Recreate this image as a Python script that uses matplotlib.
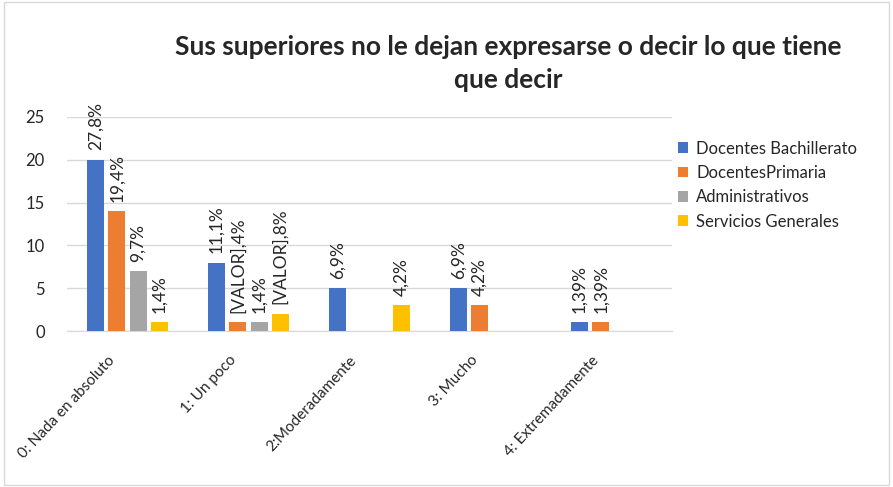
import matplotlib.pyplot as plt
import matplotlib.transforms as mtransforms
import numpy as np

plt.rcParams['font.family'] = ['Lato', 'DejaVu Sans']

categories = ["0: Nada en absoluto", "1: Un poco", "2:Moderadamente", "3: Mucho", "4: Extremadamente"]
series = ["Docentes Bachillerato", "DocentesPrimaria", "Administrativos", "Servicios Generales"]
colors = ["#4472C4", "#ED7D31", "#A5A5A5", "#FFC000"]

bachillerato = [20, 8, 5, 5, 1]
primaria = [14, 1, 0, 3, 1]
administrativos = [7, 1, 0, 0, 0]
servicios = [1, 2, 3, 0, 0]

lab_bach = ["27,8%", "11,1%", "6,9%", "6,9%", "1,39%"]
lab_prim = ["19,4%", "[VALOR],4%", None, "4,2%", "1,39%"]
lab_adm = ["9,7%", "1,4%", None, None, None]
lab_serv = ["1,4%", "[VALOR],8%", "4,2%", None, None]

values = [bachillerato, primaria, administrativos, servicios]
labels = [lab_bach, lab_prim, lab_adm, lab_serv]

fig = plt.figure(figsize=(8.93, 4.87), dpi=100)
ax = fig.add_axes([0.075, 0.3203, 0.6775, 0.4395])

x = np.arange(len(categories))
w = 0.14
step = 0.175
for i, (vals, labs) in enumerate(zip(values, labels)):
    pos = x + (i - 1.5) * step
    ax.bar(pos, vals, width=w, color=colors[i], label=series[i], zorder=3)
    for p, v, t in zip(pos, vals, labs):
        if t is None:
            continue
        ax.text(p, v + 1.1, t, rotation=90, ha='center', va='bottom',
                fontsize=12.5, color='#262626')

ax.set_xlim(-0.5, len(categories) - 0.5)
ax.set_ylim(0, 25)
ax.set_yticks(range(0, 26, 5))
ax.yaxis.grid(True, color='#D9D9D9', linewidth=1, zorder=0)
for s in ['top', 'right', 'left']:
    ax.spines[s].set_visible(False)
ax.spines['bottom'].set_color('#D9D9D9')
ax.tick_params(axis='both', length=0, labelsize=12, colors='#262626')
ax.tick_params(axis='y', pad=16)
ax.set_xticks(x)
ax.set_xticklabels(categories, rotation=47, ha='right', rotation_mode='anchor', fontsize=11)
ax.tick_params(axis='x', pad=16)
shift = mtransforms.ScaledTranslation(-0.2, 0, fig.dpi_scale_trans)
for lbl in ax.get_xticklabels():
    lbl.set_transform(lbl.get_transform() + shift)

fig.text(0.569, 0.870, "Sus superiores no le dejan expresarse o decir lo que tiene\nque decir",
         ha='center', va='center', fontsize=19, fontweight='bold', color='#262626',
         linespacing=1.45)

leg = ax.legend(loc='upper left', bbox_to_anchor=(0.985, 0.96), frameon=False,
                fontsize=12, handlelength=0.6, handleheight=0.6, handletextpad=0.5,
                labelspacing=0.5, labelcolor='#262626')

fig.patches.append(plt.Rectangle((0.004, 0.004), 0.992, 0.992, transform=fig.transFigure,
                                 fill=False, edgecolor='#D9D9D9', linewidth=1))

fig.savefig("out.png", dpi=100)
